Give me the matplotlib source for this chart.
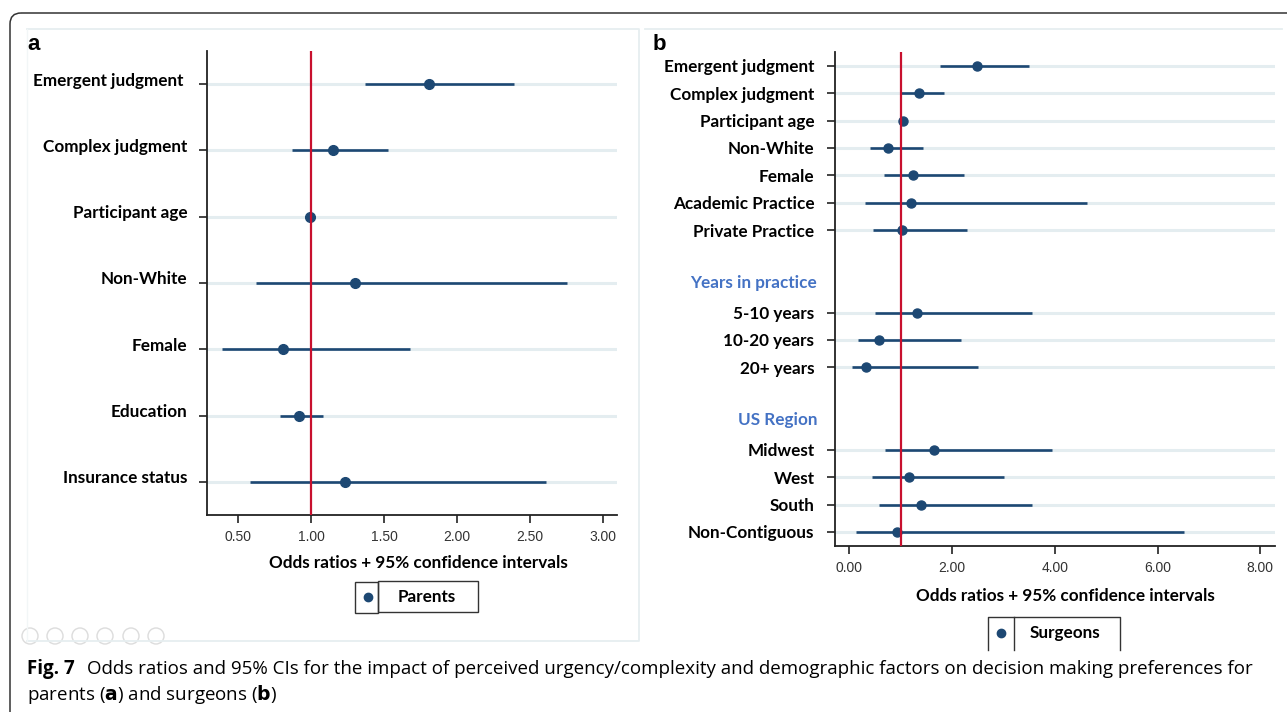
import numpy as np
import matplotlib
matplotlib.use("Agg")
import matplotlib.pyplot as plt
from matplotlib.patches import Rectangle, FancyBboxPatch, Circle
from matplotlib.lines import Line2D
import matplotlib.transforms as mtransforms

# ---- data: panel a (parents) ----
a_labels = ["Emergent judgment ", "Complex judgment", "Participant age", "Non-White",
            "Female", "Education", "Insurance status"]
a_or = [1.81, 1.15, 0.99, 1.30, 0.81, 0.92, 1.23]
a_lo = [1.37, 0.87, 0.98, 0.62, 0.39, 0.79, 0.58]
a_hi = [2.39, 1.53, 1.01, 2.75, 1.68, 1.08, 2.61]
a_ticks = [0.5, 1.0, 1.5, 2.0, 2.5, 3.0]

# ---- data: panel b (surgeons) ----
b_rows = ["Emergent judgment", "Complex judgment", "Participant age", "Non-White", "Female",
          "Academic Practice", "Private Practice", "", "Years in practice",
          "5-10 years", "10-20 years", "20+ years", "", "US Region",
          "Midwest", "West", "South", "Non-Contiguous"]
b_headers = ["Years in practice", "US Region"]
b_or = [2.48, 1.36, 1.05, 0.75, 1.23, 1.19, 1.02, 1.32, 0.57, 0.32, 1.64, 1.15, 1.40, 0.93]
b_lo = [1.77, 1.01, 1.03, 0.39, 0.68, 0.30, 0.46, 0.50, 0.16, 0.05, 0.70, 0.44, 0.57, 0.13]
b_hi = [3.49, 1.85, 1.07, 1.43, 2.24, 4.63, 2.29, 3.56, 2.18, 2.51, 3.95, 3.01, 3.56, 6.51]
b_ticks = [0, 2, 4, 6, 8]

NAVY = "#1d4873"
RED = "#c8102e"
GRID = "#e4edf0"
LABEL_FONT = ["Lato", "DejaVu Sans"]
LSIZE = 12.3

W, H = 1287, 712
fig = plt.figure(figsize=(W / 100, H / 100), dpi=100)


def px_axes(l, t, r, b):
    return fig.add_axes([l / W, 1 - b / H, (r - l) / W, (b - t) / H])


def style_axes(ax, xticks, fmt):
    for s in ["top", "right"]:
        ax.spines[s].set_visible(False)
    for s in ["left", "bottom"]:
        ax.spines[s].set_color("#222222")
        ax.spines[s].set_linewidth(1.3)
    ax.set_xticks(xticks)
    ax.set_xticklabels([fmt.format(t) for t in xticks], fontsize=10,
                       color="#333333", family="Liberation Sans")
    ax.tick_params(axis="x", length=6, width=1.2, pad=5, color="#222222")
    ax.tick_params(axis="y", length=6, width=1.2, color="#222222")
    ax.yaxis.grid(True, color=GRID, lw=2.2)
    ax.set_axisbelow(True)


# ---------------- panel a ----------------
ax1 = px_axes(207, 51, 617, 515)
ya = np.arange(1, len(a_labels) + 1)
ax1.hlines(ya, a_lo, a_hi, color=NAVY, lw=1.9, zorder=3)
ax1.plot(a_or, ya, "o", color=NAVY, ms=7, zorder=4)
ax1.axvline(1.0, color=RED, lw=1.6, zorder=5)
ax1.set_xlim(0.288, 3.094)
ax1.set_ylim(len(a_labels) + 0.5, 0.5)
ax1.set_yticks(ya)
ax1.set_yticklabels(a_labels, fontsize=LSIZE, fontweight="bold", family=LABEL_FONT)
ax1.tick_params(axis="y", pad=8)
style_axes(ax1, a_ticks, "{:.2f}")
off = mtransforms.ScaledTranslation(0, 5 / 100, fig.dpi_scale_trans)
for lab in ax1.get_yticklabels():
    lab.set_transform(lab.get_transform() + off)
ax1.set_xlabel("Odds ratios + 95% confidence intervals", fontsize=LSIZE,
               fontweight="bold", family=LABEL_FONT, va="center")
ax1.xaxis.set_label_coords(0.515, -0.104)

# ---------------- panel b ----------------
ax2 = px_axes(834.6, 52, 1274.6, 545.7)
yb = [i + 1 for i, r in enumerate(b_rows) if r and r not in b_headers]
yb_names = [r for r in b_rows if r and r not in b_headers]
ax2.hlines(yb, b_lo, b_hi, color=NAVY, lw=1.9, zorder=3)
ax2.plot(b_or, yb, "o", color=NAVY, ms=6.5, zorder=4)
ax2.axvline(1.0, color=RED, lw=1.6, zorder=5)
ax2.set_xlim(-0.29, 8.28)
ax2.set_ylim(len(b_rows) + 0.5, 0.5)
ax2.set_yticks(yb)
ax2.set_yticklabels(yb_names, fontsize=LSIZE, fontweight="bold", family=LABEL_FONT)
ax2.tick_params(axis="y", pad=8.5)
style_axes(ax2, b_ticks, "{:.2f}")
hdr_tr = mtransforms.blended_transform_factory(ax2.transAxes, ax2.transData)
for i, r in enumerate(b_rows):
    if r in b_headers:
        ax2.text(-0.04, i + 1 - 0.07, r, transform=hdr_tr, ha="right", va="center",
                 fontsize=LSIZE, fontweight="bold", family=LABEL_FONT, color="#4472c4")
ax2.set_xlabel("Odds ratios + 95% confidence intervals", fontsize=LSIZE,
               fontweight="bold", family=LABEL_FONT, va="center")
ax2.xaxis.set_label_coords(0.524, -0.101)

# ---------------- overlay: frames, legends, caption ----------------
ov = fig.add_axes([0, 0, 1, 1], zorder=-1)
ov.set_xlim(0, W)
ov.set_ylim(H, 0)
ov.axis("off")
top = fig.add_axes([0, 0, 1, 1], zorder=10)
top.set_xlim(0, W)
top.set_ylim(H, 0)
top.axis("off")

# outer rounded border
ov.add_patch(FancyBboxPatch((10, 13), W + 40, H + 40,
                            boxstyle="round,pad=0,rounding_size=11",
                            fill=False, ec="#333333", lw=1.1))
# light panel frames
ov.plot([27, 639, 639, 27], [29, 29, 641, 641], color="#e6eef0", lw=1.3)
ov.plot([27, 27], [29, 641], color="#f2f6f7", lw=1.0)
ov.plot([645, 1282], [29, 29], color="#e6eef0", lw=1.3)
# viewer controls (faint)
for cx in [30, 55, 80, 105, 131, 156]:
    ov.add_patch(Circle((cx, 636), 8, fill=False, ec="#dcdcdc", lw=1.0))

fig.text(27 / W, 1 - 45 / H, "a", fontsize=16, fontweight="bold",
         family="Liberation Sans", va="center", ha="left")
fig.text(653 / W, 1 - 44 / H, "b", fontsize=16, fontweight="bold",
         family="Liberation Sans", va="center", ha="left")

# legend a
top.add_patch(Rectangle((355, 582), 22.6, 31, fill=False, ec="#333333", lw=1.0))
top.add_patch(Rectangle((377.6, 580.5), 100, 31.5, fill=False, ec="#333333", lw=1.0))
top.add_line(Line2D([368], [597], marker="o", color=NAVY, ms=6, ls="none"))
top.text(427, 597, "Parents", ha="center", va="center", fontsize=LSIZE,
         fontweight="bold", family=LABEL_FONT)
# legend b (cut off at bottom)
top.plot([988, 988, 1120, 1120], [650, 617, 617, 650], color="#333333", lw=1.0)
top.plot([1014, 1014], [617, 650], color="#333333", lw=1.0)
top.add_line(Line2D([1001], [633], marker="o", color=NAVY, ms=6, ls="none"))
top.text(1065, 633, "Surgeons", ha="center", va="center", fontsize=LSIZE,
         fontweight="bold", family=LABEL_FONT)
top.add_patch(Rectangle((980, 651), 150, 10, color="white", lw=0))

# caption
cap_font = ["Open Sans", "DejaVu Sans"]
top.text(27, 669, "Fig. 7", fontsize=13.5, fontweight="bold", family=cap_font,
         ha="left", va="center")
top.text(87, 669, "Odds ratios and 95% CIs for the impact of perceived urgency/complexity and "
         "demographic factors on decision making preferences for",
         fontsize=13.5, family=cap_font, ha="left", va="center")
top.text(27, 695, r"parents ($\mathbf{a}$) and surgeons ($\mathbf{b}$)",
         fontsize=13.5, family=cap_font, ha="left", va="center")

fig.savefig("out.png", dpi=100)
